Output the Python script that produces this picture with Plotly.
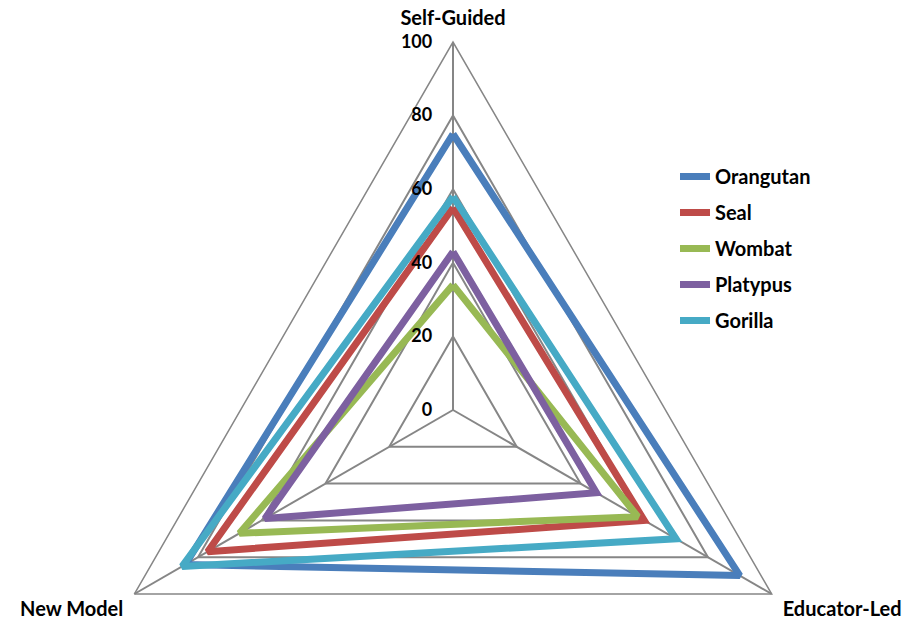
import plotly.graph_objects as go

categories = ["Self-Guided", "Educator-Led", "New Model"]
series_names = ["Orangutan", "Seal", "Wombat", "Platypus", "Gorilla"]
orangutan = [75, 90, 84]
seal = [55, 60, 77]
wombat = [34, 58, 67]
platypus = [43, 45, 59]
gorilla = [58, 70, 85]
series_values = [orangutan, seal, wombat, platypus, gorilla]
colors = ["#4A7EBB", "#BE4B48", "#98B954", "#7D60A0", "#46AAC5"]
radial_ticks = [0, 20, 40, 60, 80, 100]

W = 919
FULL_H = 820  # taller canvas so the triangle can reach its full size
OFF = 8       # page body margin
cx, cy, R = 453 - OFF, 410 - OFF, 368
FONT = "Lato"

fig = go.Figure()
for i, (name, vals) in enumerate(zip(series_names, series_values)):
    fig.add_trace(go.Scatterpolar(
        r=vals + [vals[0]],
        theta=categories + [categories[0]],
        mode="lines",
        name=name,
        legendgroup=name,
        line=dict(color=colors[i], width=7),
    ))

fig.update_layout(
    width=W, height=FULL_H,
    margin=dict(l=0, r=0, t=0, b=0),
    paper_bgcolor="white",
    font=dict(family=FONT, size=20, color="black"),
    showlegend=True,
    legend=dict(
        x=667 / W, y=1 - 149 / FULL_H, xanchor="left", yanchor="top",
        font=dict(family=FONT, size=20, color="black", weight="bold"),
        tracegroupgap=7, bgcolor="rgba(0,0,0,0)",
    ),
    polar=dict(
        domain=dict(x=[(cx - R) / W, (cx + R) / W],
                    y=[1 - (cy + R) / FULL_H, 1 - (cy - R) / FULL_H]),
        bgcolor="white",
        gridshape="linear",
        radialaxis=dict(
            range=[0, 100], tickvals=radial_ticks, angle=90, tickangle=90,
            showline=False, ticks="outside", ticklen=14, tickcolor="rgba(0,0,0,0)",
            gridcolor="#868686", gridwidth=1.5,
            tickfont=dict(family=FONT, size=18, color="black", weight="bold"),
            side="counterclockwise",
        ),
        angularaxis=dict(
            type="category", categoryarray=categories, rotation=90,
            direction="clockwise", showline=True, linecolor="#868686", linewidth=1.5,
            gridcolor="#868686", gridwidth=1.5,
            ticks="outside", ticklen=8, tickcolor="rgba(0,0,0,0)",
            tickfont=dict(family=FONT, size=20, color="black", weight="bold"),
        ),
    ),
)

fig.write_html("out.html")
